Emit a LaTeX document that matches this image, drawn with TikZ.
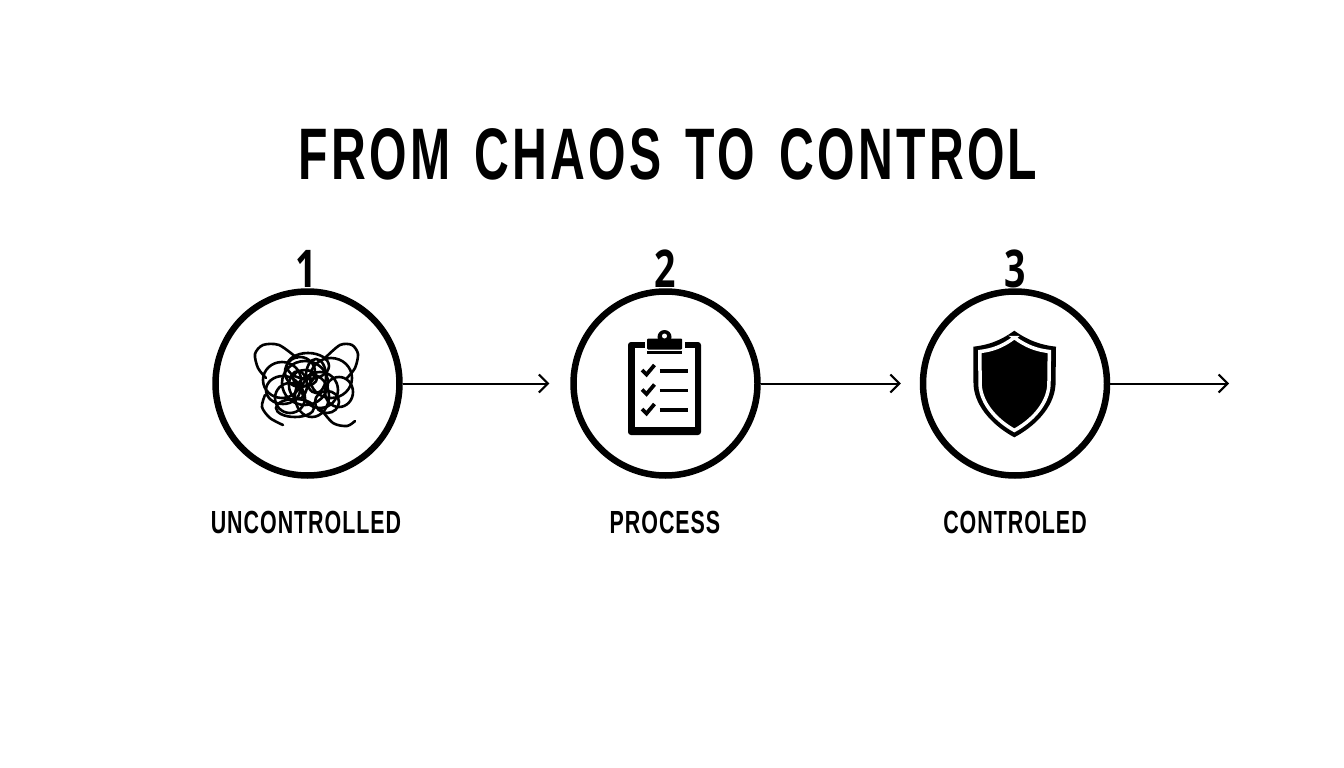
\documentclass[tikz,border=0pt]{standalone}
\usepackage{fontspec}
\setmainfont{Liberation Sans}
\newfontfamily\condfont[FakeStretch=0.67,LetterSpace=3]{Liberation Sans}
\newfontfamily\titlefont[FakeStretch=0.66,LetterSpace=4.5,WordSpace=1.45]{Liberation Sans}
\newfontfamily\numfont[FakeStretch=0.72]{Open Sans}
\usetikzlibrary{arrows.meta}

\tikzset{
  stepcircle/.style={draw=black, circle, line width=6.5pt, fill=white, minimum size=184pt, inner sep=0pt},
  steplabel/.style={font=\condfont\bfseries\fontsize{32}{36}\selectfont, text=black},
  stepnum/.style={font=\numfont\bfseries\fontsize{52}{56}\selectfont, text=black},
  flowarrow/.style={draw=black, line width=2pt, -{Straight Barb[length=9pt,width=18pt,line width=2pt]}},
  squiggle/.style={draw=black, line width=2.6pt, line cap=round}
}
\newcommand{\shieldpath}{(1014.3,330.7) .. controls (1000,341) and (988,345) .. (973.3,346.7)
  -- (973.5,385) .. controls (975,408) and (995,427) .. (1014.3,437.3)
  .. controls (1034,427) and (1054,408) .. (1055.5,385) -- (1056,346.7)
  .. controls (1041,345) and (1029,341) .. cycle}

\begin{document}
\begin{tikzpicture}[x=1pt,y=-1pt]
  \useasboundingbox (0,0) rectangle (1344,768);
  \fill[white] (0,0) rectangle (1344,768);

  \node[font=\titlefont\bfseries\fontsize{73}{76}\selectfont] (title) at (668,154) {FROM CHAOS TO CONTROL};

  \node[stepnum] (numone) at (306,269) {1};
  \node[stepnum] (numtwo) at (665,269) {2};
  \node[stepnum] (numthree) at (1015,269) {3};

  \node[stepcircle] (chaos) at (307.5,383.5) {};
  \node[stepcircle] (process) at (665.5,383.5) {};
  \node[stepcircle] (control) at (1015,383.5) {};
  \coordinate (finish) at (1229,383.5);

  \node[steplabel] (chaoslabel) at (306,522) {UNCONTROLLED};
  \node[steplabel] (processlabel) at (665,522) {PROCESS};
  \node[steplabel] (controllabel) at (1015,522) {CONTROLED};

  \draw[flowarrow, shorten >=21pt] (chaos) -- (process);
  \draw[flowarrow, shorten >=19pt] (process) -- (control);
  \draw[flowarrow] (control) -- (finish);

  % tangle
  \foreach \cx/\cy/\rx/\ry in {282/380/19/18, 331/378/21/20, 305/383/23/22, 300/372/15/15,
      320/390/18/18, 290/398/15/15, 327/402/12/11, 308/366/21/13, 312/396/17/21,
      283/390/17/14, 339/392/14/15, 298/385/9/14, 316/376/10/17, 305/378/12/8, 295/408/19/9}
    \draw[squiggle] (\cx,\cy) ellipse ({\rx} and {\ry});
  \draw[squiggle] plot[smooth] coordinates {(297,358) (279,345) (263,345) (255,354) (258,368) (266,378)};
  \draw[squiggle] plot[smooth] coordinates {(325,358) (340,345) (352,345) (358,354) (355,368) (347,378)};
  \draw[squiggle] plot[smooth] coordinates {(320,408) (333,423) (347,426) (355,421)};
  \draw[squiggle] plot[smooth] coordinates {(265,395) (262,407) (270,418) (283,425)};

  % clipboard
  \fill[black, rounded corners=3pt] (628,342) rectangle (701,435);
  \fill[white] (634.5,348) rectangle (695,427);
  \fill[white] (644.5,340) rectangle (685,350);
  \fill[black] (664.5,337) circle (7pt);
  \fill[black, rounded corners=1pt] (647,338.5) rectangle (682,349.5);
  \fill[black] (647,351) rectangle (682,353.5);
  \fill[white] (664.5,336) circle (2.5pt);
  \foreach \rowy in {371,390.5,410}{
    \draw[black, line width=3.8pt] (642,\rowy-1) -- (646.5,\rowy+3.5) -- (654.5,\rowy-6);
    \draw[black, line width=3.6pt] (659.5,\rowy) -- (688,\rowy);
  }

  % shield
  \fill[black] \shieldpath;
  \begin{scope}[shift={(1014.5,384)}, xscale=0.84, yscale=0.87, shift={(-1014.5,-384)}]
    \draw[white, line width=3.5pt] \shieldpath;
  \end{scope}
\end{tikzpicture}
\end{document}
